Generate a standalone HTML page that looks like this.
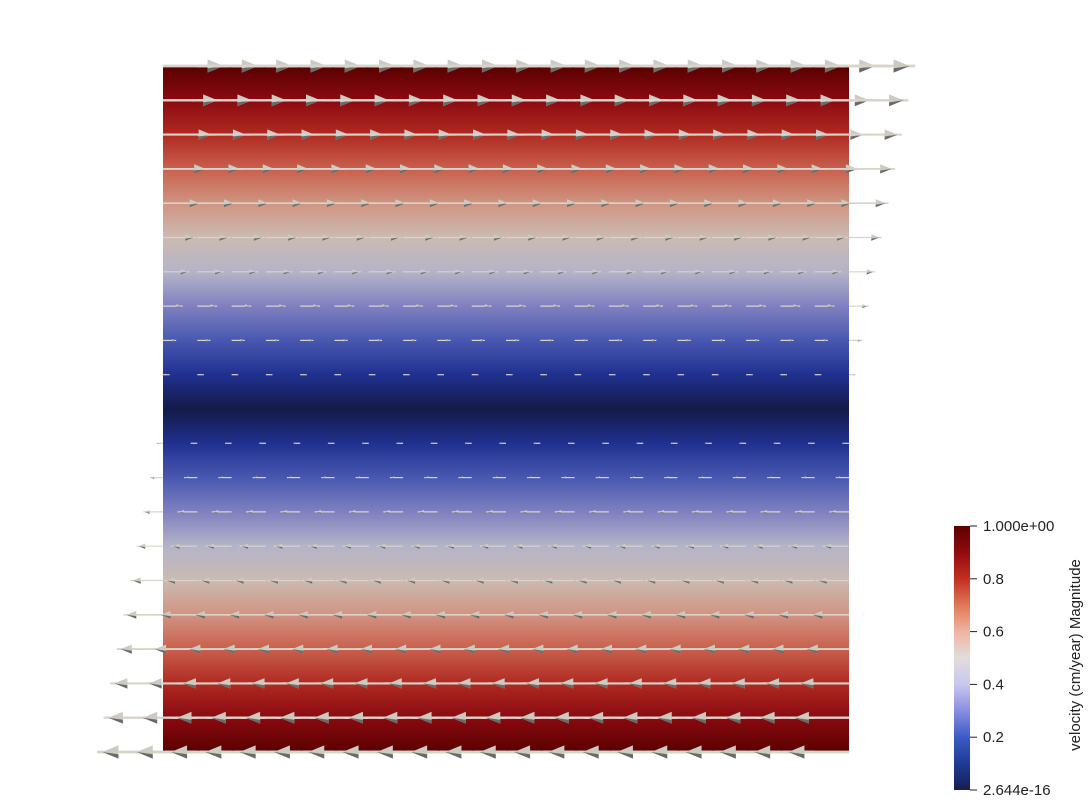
<!DOCTYPE html>
<html><head><meta charset="utf-8"><style>
html,body{margin:0;padding:0;background:#fff;}
svg{display:block;font-family:"Liberation Sans",sans-serif;}
</style></head><body>
<svg id="c" width="1088" height="802" viewBox="0 0 1088 802">
<defs>
<linearGradient id="fieldGrad" x1="0" y1="0" x2="0" y2="1"></linearGradient>
<linearGradient id="barGrad" x1="0" y1="1" x2="0" y2="0"></linearGradient>
</defs>
<rect x="163" y="66" width="686" height="686" fill="url(#fieldGrad)"/>
<g id="arrows"></g>
<rect x="954" y="526" width="16" height="264" fill="url(#barGrad)"/>
<g id="ticks"></g>
<text transform="translate(1080,655) rotate(-90)" text-anchor="middle" font-size="15" fill="#222">velocity (cm/year) Magnitude</text>
</svg>
<script>
// row velocities (x-component), top to bottom
const rowVelocity = [1,0.9,0.8,0.7,0.6,0.5,0.4,0.3,0.2,0.1,0,-0.1,-0.2,-0.3,-0.4,-0.5,-0.6,-0.7,-0.8,-0.9,-1];
const columnCount = 21;
const tickValues = [0,0.2,0.4,0.6,0.8,1];
const tickLabels = ["2.644e-16","0.2","0.4","0.6","0.8","1.000e+00"];
const cmapPos = [0,0.1,0.2,0.3,0.4,0.5,0.6,0.7,0.8,0.9,1];
const cmapCol = ["#161f52","#1e3a96","#3a5cc8","#8a8ee0","#c8c8ee","#e4dcdc","#efb4a0","#e07858","#c42e22","#930a0e","#5a0000"];
const fieldCol = ["#141a48","#203090","#4858b0","#8080c0","#b4b4c8","#cbbab2","#d09482","#c8604c","#b02a22","#8a0a10","#5a0000"];

const NS="http://www.w3.org/2000/svg";
const X0=163,Y0=66,S=686,maxLen=66;
function xPos(col){return X0+col*S/(columnCount-1);}
function yPos(row){return Y0+row*S/(rowVelocity.length-1);}
function lenScale(v){return v*maxLen;}
function barY(v){return 790-v*264;}
function mk(tag,attrs){const e=document.createElementNS(NS,tag);for(const k in attrs)e.setAttribute(k,attrs[k]);return e;}

// field gradient: color by magnitude at each row
const fg=document.getElementById('fieldGrad');
rowVelocity.forEach((v,r)=>{
  const m=Math.abs(v);
  const idx=Math.min(10,Math.round(m*10));
  fg.appendChild(mk('stop',{offset:r/(rowVelocity.length-1),'stop-color':fieldCol[idx]}));
});
const bg=document.getElementById('barGrad');
cmapPos.forEach((p,i)=>bg.appendChild(mk('stop',{offset:p,'stop-color':cmapCol[i]})));

// arrows
const g=document.getElementById('arrows');
rowVelocity.forEach((v,r)=>{
  const y=yPos(r);
  for(let c=0;c<columnCount;c++){
    const x=xPos(c);
    const L=lenScale(v);
    const a=Math.abs(L);
    if(a<0.5)continue;
    const dir=Math.sign(L);
    const tip=x+L;
    const hl=a*0.25,hw=a*0.1;
    const sw=Math.max(1.2,a*0.04);
    const shaft=mk('line',{x1:x,y1:y,x2:tip,y2:y,stroke:'#d8d4cc','stroke-width':sw});
    
    
    g.appendChild(shaft);
    const hb=tip-dir*hl*1.3, ht=tip-dir*a*0.08;
    const head=mk('polygon',{points:`${hb},${y-hw} ${ht},${y} ${hb},${y+hw}`,fill:'#cdcac2'});
    
    
    g.appendChild(head);
    const shade=mk('polygon',{points:`${hb},${y+hw*0.35} ${ht},${y} ${hb},${y+hw}`,fill:'#6a6a68'});
    
    
    g.appendChild(shade);
  }
});

// ticks
const tg=document.getElementById('ticks');
tickValues.forEach((v,i)=>{
  const y=barY(v);
  const l=mk('line',{x1:970,y1:y,x2:977,y2:y,stroke:'#222','stroke-width':1});
  
  
  tg.appendChild(l);
  const t=mk('text',{x:983,y:y+5,'font-size':15,fill:'#222'});
  t.textContent=tickLabels[i];
  
  
  tg.appendChild(t);
});
</script>
</body></html>
